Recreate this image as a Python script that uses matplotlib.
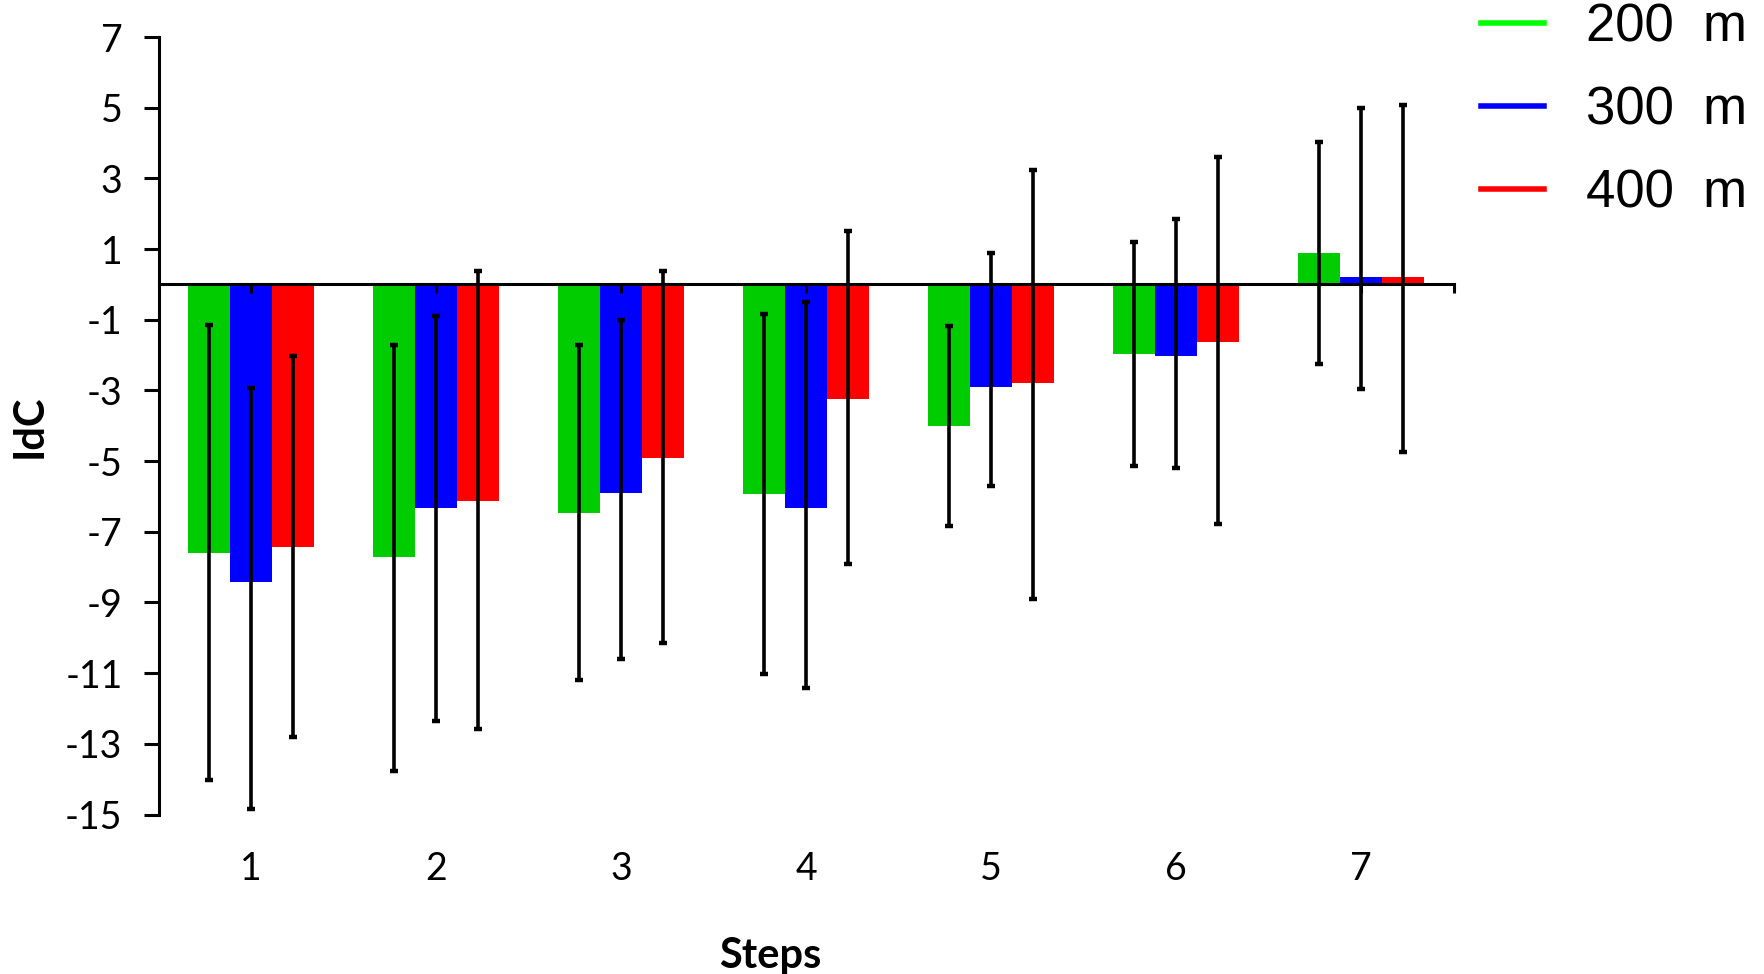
import numpy as np
import matplotlib
matplotlib.use("Agg")
import matplotlib.pyplot as plt
from matplotlib.lines import Line2D

plt.rcParams['font.family'] = ['Lato', 'DejaVu Sans']
plt.rcParams['axes.unicode_minus'] = False

# ==================== data ==================== #
steps = [1, 2, 3, 4, 5, 6, 7]
series_labels = ["200  m", "300  m", "400  m"]

# bar heights (IdC)
v200 = np.array([-7.60, -7.72, -6.46, -5.94, -4.02, -1.98, 0.90])
v300 = np.array([-8.43, -6.34, -5.90, -6.34, -2.90, -2.03, 0.22])
v400 = np.array([-7.42, -6.12, -4.90, -3.24, -2.80, -1.62, 0.22])

# error bar ends (upper / lower)
hi200 = np.array([-1.15, -1.72, -1.72, -0.83, -1.18, 1.21, 4.03])
lo200 = np.array([-14.01, -13.76, -11.18, -11.01, -6.84, -5.14, -2.26])
hi300 = np.array([-2.92, -0.88, -1.02, -0.49, 0.90, 1.86, 5.00])
lo300 = np.array([-14.83, -12.36, -10.61, -11.41, -5.71, -5.19, -2.97])
hi400 = np.array([-2.02, 0.38, 0.38, 1.51, 3.25, 3.60, 5.07])
lo400 = np.array([-12.80, -12.58, -10.14, -7.92, -8.89, -6.79, -4.75])

bar_colors = ['#00CC00', '#0000FF', '#FF0000']
legend_colors = ['#00FF00', '#0000FF', '#FF0000']

# ==================== plot ==================== #
fig = plt.figure(figsize=(17.64, 9.74), dpi=100)
ax = fig.add_axes([0.0899, 0.1637, 0.7341, 0.7983])

x = np.array(steps, dtype=float)
w = 0.228
all_vals = [v200, v300, v400]
all_hi = [hi200, hi300, hi400]
all_lo = [lo200, lo300, lo400]

for i, (vals, hi, lo) in enumerate(zip(all_vals, all_hi, all_lo)):
    xpos = x + (i - 1) * w
    ax.bar(xpos, vals, width=w, color=bar_colors[i], zorder=1)
    ax.errorbar(xpos, vals, yerr=[vals - lo, hi - vals], fmt='none',
                ecolor='black', elinewidth=2.6, capsize=3.2, capthick=3.2, zorder=3)

ax.set_xlim(0.5, 7.5)
ax.set_ylim(-15, 7)
ax.set_yticks(np.arange(-15, 8, 2))

# axes styling
for s in ['top', 'right']:
    ax.spines[s].set_visible(False)
ax.spines['left'].set_linewidth(2.2)
ax.spines['bottom'].set_linewidth(2.2)
ax.spines['bottom'].set_position(('data', 0))
ax.spines['bottom'].set_zorder(4)

ax.tick_params(axis='y', direction='out', length=11, width=2.2, pad=15, labelsize=27)
ax.set_xticks(x)
ax.set_xticks([7.5], minor=True)
ax.tick_params(axis='x', which='both', direction='out', length=6.5, width=2.2,
               labelbottom=False)

# category labels at the bottom of the plot
sec = ax.secondary_xaxis('bottom')
sec.set_xticks(x, labels=[str(s) for s in steps])
sec.tick_params(length=0, pad=26, labelsize=27)
sec.spines['bottom'].set_visible(False)
sec.set_xlabel("Steps", fontsize=30, fontweight='bold', labelpad=36)
sec.xaxis.label.set_x(0.472)

ax.set_ylabel("IdC", fontsize=30, fontweight='bold', labelpad=12)

handles = [Line2D([], [], color=c, lw=4) for c in legend_colors]
fig.legend(handles, series_labels, loc='upper left', bbox_to_anchor=(0.8395, 0.997),
           frameon=False, prop={'family': 'Liberation Sans', 'size': 38},
           handlelength=1.2, handletextpad=0.8, labelspacing=0.62,
           borderpad=0, borderaxespad=0)

fig.savefig("out.png", dpi=100)
